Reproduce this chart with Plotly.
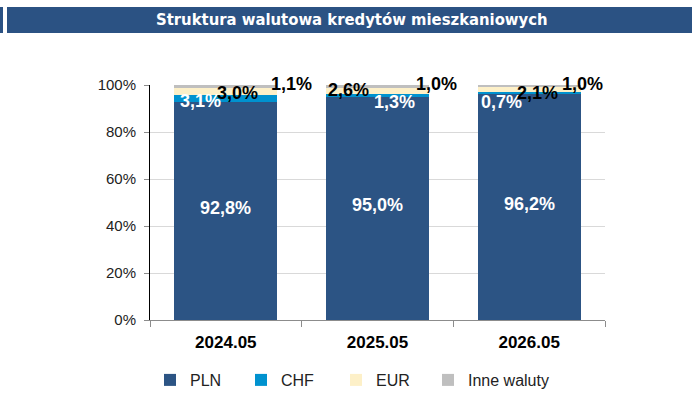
import plotly.graph_objects as go

categories = ["2024.05", "2025.05", "2026.05"]
pln = [92.8, 95.0, 96.2]
chf = [3.1, 1.3, 0.7]
eur = [3.0, 2.6, 2.1]
inne = [1.1, 1.0, 1.0]
series_names = ["PLN", "CHF", "EUR", "Inne waluty"]
y_ticks = [0, 20, 40, 60, 80, 100]

colors = ["#2C5484", "#0092CF", "#FDF0C8", "#BFBFBF"]
series = [pln, chf, eur, inne]

def fmt(v):
    return f"{v:.1f}".replace(".", ",") + "%"

L, R, T, B = 150, 95, 85, 93
W, H = 700, 413
pw = W - L - R
ph = H - T - B
def px_x(p):
    return (p - L) / pw
def px_y(p):
    return (H - B - p) / ph

legend_x_px = [150, 241, 336, 428]
legend_keys = ["legend", "legend2", "legend3", "legend4"]

fig = go.Figure()
for name, vals, col, lk in zip(series_names, series, colors, legend_keys):
    fig.add_trace(go.Bar(
        x=categories, y=vals, name=name,
        marker=dict(color=col, line=dict(width=0)),
        width=0.68, hoverinfo="skip", legend=lk, showlegend=True,
    ))

# label offsets (px) per series per category
offsets = {
    1: [(-25, -3), (17, -7), (-28, -9)],
    2: [(12, -2), (-29, 1), (8, -3)],
    3: [(66, 2), (59, 2), (53, 2)],
}
lab_font = dict(family="Liberation Sans, Arial, sans-serif", size=18)

annotations = []
for i, c in enumerate(categories):
    base = 0.0
    for s_idx, vals in enumerate(series):
        v = vals[i]
        mid = base + v / 2
        if s_idx == 0:
            annotations.append(dict(x=i, y=mid, xref="x", yref="y", text=f"<b>{fmt(v)}</b>",
                                    showarrow=False, font=dict(color="white", **lab_font),
                                    yshift=3))
        else:
            dx, dy = offsets[s_idx][i]
            color = "white" if s_idx == 1 else "black"
            annotations.append(dict(x=i, y=mid, xref="x", yref="y", text=f"<b>{fmt(v)}</b>",
                                    showarrow=False, font=dict(color=color, **lab_font),
                                    xshift=dx, yshift=dy))
        base += v

shapes = [
    dict(type="rect", xref="paper", yref="paper", x0=px_x(7), x1=px_x(692), y0=px_y(33), y1=px_y(7),
         fillcolor="#2B5283", line=dict(width=0), layer="below"),
    dict(type="rect", xref="paper", yref="paper", x0=px_x(0), x1=px_x(3), y0=px_y(33), y1=px_y(7),
         fillcolor="#2B5283", line=dict(width=0), layer="below"),
]
annotations.append(dict(xref="paper", yref="paper", x=px_x(352), y=px_y(20),
                        text="<b>Struktura walutowa kredytów mieszkaniowych</b>", showarrow=False,
                        font=dict(family="Liberation Sans Narrow, DejaVu Sans Condensed, sans-serif",
                                  size=16.5, color="white"),
                        xanchor="center", yanchor="middle"))

legends = {}
for lk, lx in zip(legend_keys, legend_x_px):
    legends[lk] = dict(orientation="h", xref="container", yref="container",
                       x=lx / W, y=1 - 380 / H, xanchor="left",
                       yanchor="middle", font=dict(size=16, color="#222222"),
                       bgcolor="rgba(0,0,0,0)")

fig.update_layout(
    barmode="stack",
    width=W, height=H,
    margin=dict(l=L, r=R, t=T, b=B),
    plot_bgcolor="white", paper_bgcolor="white",
    font=dict(family="Liberation Sans, Arial, sans-serif", color="#222222"),
    shapes=shapes,
    annotations=annotations,
    showlegend=True,
    xaxis=dict(type="category", range=[-0.5, 2.5], showgrid=False, showline=True,
               linecolor="#8C8C8C", linewidth=1, automargin=False,
               ticks="outside", tickson="boundaries", ticklen=6, tickcolor="#8C8C8C",
               ticklabelstandoff=7,
               tickfont=dict(size=17, color="black", family="Liberation Sans, Arial, sans-serif"),
               tickprefix="<b>", ticksuffix="</b>"),
    yaxis=dict(range=[0, 100], tickvals=y_ticks, ticktext=[f"{t}%" for t in y_ticks],
               showgrid=True, gridcolor="#D9D9D9", gridwidth=1, zeroline=False,
               showline=True, linecolor="black", linewidth=1, automargin=False,
               ticks="outside", ticklen=5, tickcolor="#8C8C8C", ticklabelstandoff=5,
               tickfont=dict(size=15, color="#222222")),
    bargap=0.32,
    **legends,
)

fig.write_html("out.html", config={"displayModeBar": False},
               post_script="document.body.style.margin='0px';")
